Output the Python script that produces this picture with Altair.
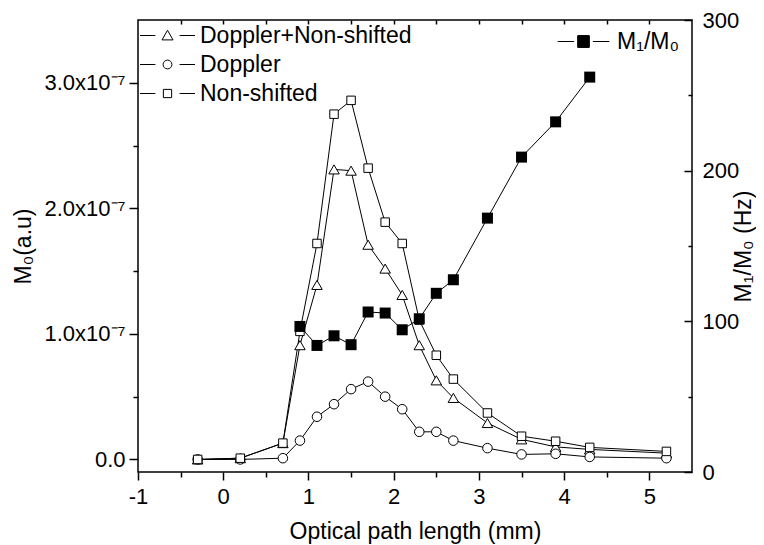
import altair as alt
import pandas as pd

# ---- data ----
x_m0 = [-0.3, 0.2, 0.7, 0.9, 1.1, 1.3, 1.5, 1.7, 1.9, 2.1, 2.3, 2.5, 2.7, 3.1, 3.5, 3.9, 4.3, 5.2]
# M0 values in units of 1e-7 (a.u.)
doppler_nonshifted = [0.00, 0.01, 0.13, 0.91, 1.39, 2.31, 2.30, 1.71, 1.52, 1.31, 0.91, 0.63, 0.49, 0.29, 0.16, 0.10, 0.08, 0.05]
doppler = [0.00, 0.00, 0.01, 0.15, 0.34, 0.44, 0.56, 0.62, 0.50, 0.40, 0.22, 0.22, 0.15, 0.09, 0.04, 0.045, 0.02, 0.01]
non_shifted = [0.00, 0.01, 0.13, 1.02, 1.72, 2.75, 2.86, 2.32, 1.89, 1.72, 1.11, 0.83, 0.64, 0.37, 0.185, 0.145, 0.096, 0.064]

x_ratio = [0.9, 1.1, 1.3, 1.5, 1.7, 1.9, 2.1, 2.3, 2.5, 2.7, 3.1, 3.5, 3.9, 4.3]
m1_m0 = [96.6, 84.0, 90.4, 84.5, 106.2, 105.5, 94.4, 101.7, 118.6, 127.6, 168.5, 209.0, 232.4, 262.1]

series_names = ["Doppler+Non-shifted", "Doppler", "Non-shifted"]
ratio_name = "M\u2081/M\u2080"

x_ticks = [-1, -0.5, 0, 0.5, 1, 1.5, 2, 2.5, 3, 3.5, 4, 4.5, 5]
y_ticks = [0, 0.5, 1, 1.5, 2, 2.5, 3]
r_ticks = [0, 50, 100, 150, 200, 250, 300]

rows = []
for name, vals in zip(series_names, [doppler_nonshifted, doppler, non_shifted]):
    for xv, yv in zip(x_m0, vals):
        rows.append({"x": xv, "v": yv, "series": name})
df_left = pd.DataFrame(rows)
df_right = pd.DataFrame({"x": x_ratio, "r": m1_m0, "series": ratio_name})

FONT = "Liberation Sans"

x_scale = alt.Scale(domain=[-1, 5.5], nice=False, zero=False)
yl_scale = alt.Scale(domain=[-0.1, 3.5], nice=False, zero=False)
yr_scale = alt.Scale(domain=[0, 300], nice=False, zero=False)

x_axis = alt.Axis(
    values=x_ticks, orient="bottom", domain=False, grid=False,
    labelExpr="datum.value % 1 === 0 ? '' + datum.value : ''",
    tickSize={"condition": {"test": "datum.value % 1 !== 0", "value": 5}, "value": 8},
    tickWidth=1.5, tickColor="black", labelColor="black", labelFontSize=22,
    labelPadding=6, labelFlush=False, labelOverlap=False,
    title="Optical path length (mm)", titleFontSize=23, titleFontWeight="normal",
    titleColor="black", titlePadding=13,
)
yl_axis = alt.Axis(
    values=y_ticks, orient="left", domain=False, grid=False,
    labelExpr="datum.value % 1 === 0 ? (datum.value === 0 ? '0.0' : format(datum.value, '.1f') + 'x10\u207b\u2077') : ''",
    tickSize={"condition": {"test": "datum.value % 1 !== 0", "value": 5}, "value": 9},
    tickWidth=1.5, tickColor="black", labelColor="black", labelFontSize=22,
    labelPadding=4, labelOverlap=False,
    title="M\u2080(a.u)", titleFontSize=23, titleFontWeight="normal",
    titleColor="black", titlePadding=8,
)
yr_axis = alt.Axis(
    values=r_ticks, orient="right", domain=False, grid=False, offset=-8,
    labelExpr="datum.value % 100 === 0 ? '' + datum.value : ''",
    tickSize=8,
    tickDash={"condition": {"test": "datum.value % 100 !== 0", "value": [0, 4, 4, 0]}, "value": []},
    tickWidth=1.5, tickColor="black", labelColor="black", labelFontSize=22,
    labelPadding=10, labelOverlap=False,
    title="M\u2081/M\u2080 (Hz)", titleFontSize=23, titleFontWeight="normal",
    titleColor="black", titlePadding=17, titleAngle=270,
)
x_top_axis = alt.Axis(
    values=[-0.5, 0, 0.5, 1, 1.5, 2, 2.5, 3, 3.5, 4, 4.5, 5], orient="top",
    domain=False, grid=False, labels=False, title=None, offset=-4,
    tickSize=4, tickWidth=1.5, tickColor="black",
)

X = alt.X("x:Q", scale=x_scale, axis=x_axis)
YL = alt.Y("v:Q", scale=yl_scale, axis=yl_axis)

# legend glyphs: "—marker—" drawn as custom symbol paths (unit = sqrt(symbolSize)/2 px)
leg_paths = [
    "M-5,0H-2.2M2.2,0H5M0,-0.95L1,0.8L-1,0.8Z",
    "M-5,0H-2.2M2.2,0H5M0.8,0A0.8,0.8,0,1,1,-0.8,0A0.8,0.8,0,1,1,0.8,0Z",
    "M-5,0H-2.2M2.2,0H5M-0.75,-0.75H0.75V0.75H-0.75Z",
]
hatch = "".join("M-1.05,%.2fH1.05" % (-1.05 + 0.15 * i) for i in range(15))
ratio_path = ["M-4.7,0H-1.7M1.7,0H4.7M-1.05,-1.05H1.05V1.05H-1.05Z" + hatch]

base_l = alt.Chart(df_left)
lines_l = base_l.mark_line(color="black", strokeWidth=1).encode(
    x=X, y=YL, detail="series:N"
)
points_l = base_l.mark_point(filled=True, fill="white", stroke="black", strokeWidth=1, opacity=1).encode(
    x=X, y=YL,
    shape=alt.Shape("series:N", scale=alt.Scale(domain=series_names, range=["triangle-up", "circle", "square"]), legend=None),
    size=alt.Size("series:N", scale=alt.Scale(domain=series_names, range=[110, 72, 70]), legend=None),
)
legend_l = base_l.mark_point(filled=False, color="black", strokeWidth=1, opacity=0).encode(
    x=X, y=YL,
    shape=alt.Shape(
        "series:N",
        scale=alt.Scale(domain=series_names, range=leg_paths),
        legend=alt.Legend(
            orient="none", legendX=18, legendY=4, direction="vertical", title=None,
            symbolSize=121, symbolStrokeWidth=1, symbolOpacity=1,
            labelFontSize=23, labelFont=FONT, labelColor="black",
            labelOffset=21, labelLimit=0, rowPadding=5, padding=0,
        ),
    ),
)
left = alt.layer(lines_l, points_l, legend_l).resolve_scale(shape="independent", size="independent")

XT = alt.X("x:Q", scale=x_scale, axis=x_top_axis)
YR = alt.Y("r:Q", scale=yr_scale, axis=yr_axis)
base_r = alt.Chart(df_right)
line_r = base_r.mark_line(color="black", strokeWidth=1).encode(x=XT, y=YR)
points_r = base_r.mark_point(shape="square", filled=True, color="black", size=121, opacity=1).encode(x=XT, y=YR)
legend_r = base_r.mark_point(filled=False, color="black", fill="black", strokeWidth=1, opacity=0).encode(
    x=XT, y=YR,
    shape=alt.Shape(
        "series:N",
        scale=alt.Scale(domain=[ratio_name], range=ratio_path),
        legend=alt.Legend(
            orient="none", legendX=434, legendY=10, direction="vertical", title=None,
            symbolSize=121, symbolStrokeWidth=1, symbolOpacity=1,
            labelFontSize=23, labelFont=FONT, labelColor="black",
            labelOffset=22, labelLimit=0, padding=0,
        ),
    ),
)
right = alt.layer(line_r, points_r, legend_r)

chart = (
    alt.layer(left, right)
    .resolve_scale(y="independent", shape="independent")
    .resolve_axis(x="independent", y="independent")
    .resolve_legend(shape="independent")
    .properties(
        width=554, height=452,
        autosize=alt.AutoSizeParams(type="none"),
        padding={"left": 130, "top": 12, "right": 64, "bottom": 80},
        background="white",
    )
    .configure(font=FONT)
    .configure_view(stroke="black", strokeWidth=1.5)
)

chart.save("out.html", embed_options={"renderer": "svg", "actions": False})
